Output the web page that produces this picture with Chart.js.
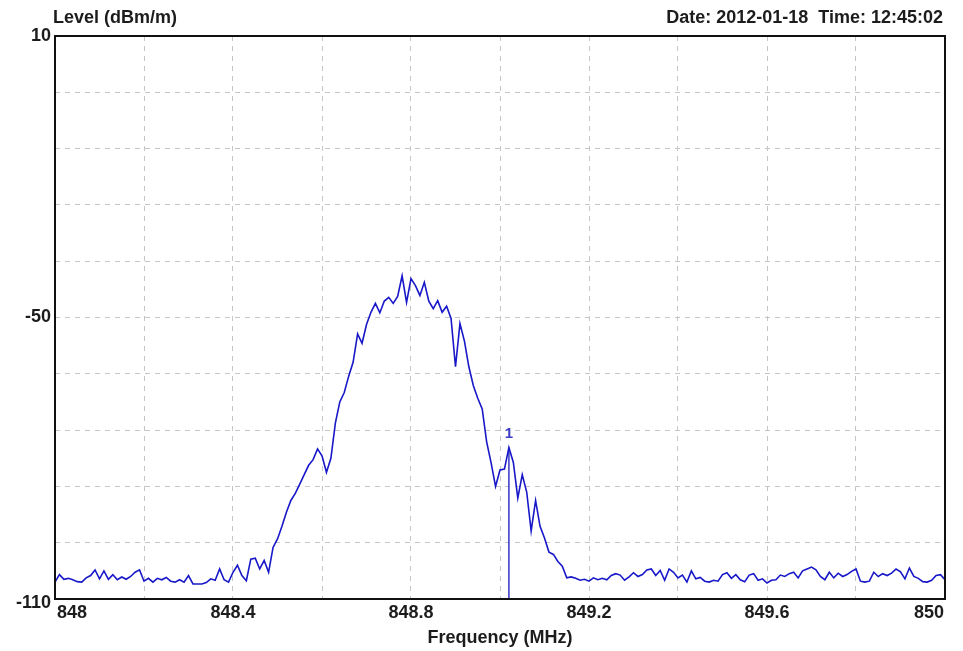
<!DOCTYPE html>
<html>
<head>
<meta charset="utf-8">
<script src="https://cdn.jsdelivr.net/npm/chart.js@4"></script>
<style>
  body { margin: 0; background: #fff; }
  #wrap { width: 963px; height: 651px; }
</style>
</head>
<body>
<div id="wrap"><canvas id="spectrum" width="963" height="651"></canvas></div>
<script>
// sweep: 848 .. 850 MHz, one reading every 10 kHz
const freqStart = 848;
const freqStep = 0.01;

// level readings (dBm/m)
const levels = [
    -106.4, -104.8, -105.8, -105.6, -105.9, -106.3, -106.4, -105.5, -105.0, -103.8,
    -105.7, -104.0, -105.8, -104.8, -105.9, -105.3, -105.8, -105.2, -104.3, -103.8,
    -106.2, -105.6, -106.4, -105.6, -105.9, -105.4, -106.2, -106.4, -105.9, -106.4,
    -105.0, -106.8, -106.8, -106.8, -106.5, -105.7, -106.0, -103.6, -105.9, -106.4,
    -104.3, -102.8, -105.0, -106.1, -101.5, -101.3, -103.6, -101.8, -104.3, -99.0,
    -97.2, -94.5, -91.5, -89.0, -87.5, -85.5, -83.5, -81.5, -80.3, -78.0,
    -79.5, -83.0, -80.0, -72.5, -68.0, -66.0, -62.5, -59.5, -53.5, -55.5,
    -51.5, -48.9, -47.0, -49.0, -46.5, -45.7, -47.0, -45.5, -41.1, -46.8,
    -41.7, -43.2, -45.3, -42.5, -46.5, -48.1, -46.4, -48.9, -47.6, -50.2,
    -60.5, -51.3, -55.0, -60.5, -64.5, -67.2, -69.5, -76.5, -81.0, -86.0,
    -82.5, -82.3, -77.7, -80.9, -88.5, -83.5, -87.2, -95.5, -89.0, -94.5,
    -97.0, -100.0, -100.5, -102.0, -103.0, -105.5, -105.3, -105.6, -106.0, -105.8,
    -106.2, -105.5, -105.9, -105.6, -105.9, -105.0, -104.6, -104.9, -106.0, -105.3,
    -104.4, -105.2, -104.8, -103.8, -103.6, -105.0, -103.9, -106.0, -103.6, -104.3,
    -105.5, -104.9, -106.4, -104.0, -105.7, -105.4, -106.2, -106.4, -106.0, -106.2,
    -104.8, -104.4, -105.6, -104.8, -105.9, -106.3, -104.9, -104.6, -106.0, -105.7,
    -106.6, -106.0, -105.9, -104.9, -105.2, -104.6, -104.3, -105.5, -104.0, -103.6,
    -103.2, -103.8, -105.2, -105.9, -104.3, -105.5, -104.5, -105.2, -104.8, -104.1,
    -103.6, -106.2, -106.4, -106.2, -104.3, -105.2, -104.6, -105.0, -104.5, -103.6,
    -104.2, -105.7, -103.4, -105.2, -105.6, -106.3, -106.4, -106.0, -105.0, -104.8,
    -105.9
];

// marker 1 sits on reading no. 102 (849.02 MHz)
const markerIndex = 102;
const markerLabel = "1";

const xLabelValues = [848, 848.4, 848.8, 849.2, 849.6, 850];
const yLabelValues = [10, -50, -110];

const titleY = "Level (dBm/m)";
const titleX = "Frequency (MHz)";
const stamp = "Date: 2012-01-18  Time: 12:45:02";

const trace = levels.map((v, i) => ({ x: freqStart + i * freqStep, y: v }));
const markerX = freqStart + markerIndex * freqStep;
const markerLine = [
    { x: markerX, y: levels[markerIndex] },
    { x: markerX, y: -110 }
];

const textColor = "#1c1c1c";
const boldFont = "bold 18px 'Liberation Sans', Arial, sans-serif";

const labelsPlugin = {
    id: "labels",
    afterDraw(chart) {
        const ctx = chart.ctx;
        const area = chart.chartArea;
        const xs = chart.scales.x;
        const ys = chart.scales.y;

        ctx.save();
        // frame
        ctx.strokeStyle = "#111";
        ctx.lineWidth = 2;
        ctx.strokeRect(area.left, area.top, area.right - area.left, area.bottom - area.top);

        ctx.fillStyle = textColor;
        ctx.font = boldFont;
        ctx.textBaseline = "middle";

        // y labels
        ctx.textAlign = "right";
        yLabelValues.forEach(v => {
            let y = ys.getPixelForValue(v);
            if (v === -110) y += 4;
            ctx.fillText(String(v), area.left - 4, y);
        });

        // x labels
        xLabelValues.forEach((v, i) => {
            const x = xs.getPixelForValue(v);
            if (i === 0) { ctx.textAlign = "left"; ctx.fillText(String(v), x + 2, 613); }
            else if (i === xLabelValues.length - 1) { ctx.textAlign = "right"; ctx.fillText(String(v), x - 1, 613); }
            else { ctx.textAlign = "center"; ctx.fillText(String(v), x, 613); }
        });

        // titles
        ctx.textAlign = "left";
        ctx.fillText(titleY, 53, 18);
        ctx.textAlign = "right";
        ctx.fillText(stamp, 943, 18);
        ctx.textAlign = "center";
        ctx.fillText(titleX, 500, 638);

        // marker number
        ctx.fillStyle = "#3c3cc8";
        ctx.font = "bold 15px 'Liberation Sans', Arial, sans-serif";
        ctx.fillText(markerLabel, xs.getPixelForValue(markerX), ys.getPixelForValue(levels[markerIndex]) - 14);
        ctx.restore();
    }
};

new Chart(document.getElementById("spectrum"), {
    type: "line",
    data: {
        datasets: [
            {
                data: trace,
                borderColor: "#1818c8",
                borderWidth: 1.6,
                pointRadius: 0,
                tension: 0
            },
            {
                data: markerLine,
                borderColor: "#4444cc",
                borderWidth: 1.6,
                pointRadius: 0
            }
        ]
    },
    options: {
        responsive: false,
        devicePixelRatio: 1,
        animation: false,
        layout: { padding: { left: 55, top: 36, right: 18, bottom: 52 } },
        plugins: {
            legend: { display: false },
            tooltip: { enabled: false }
        },
        scales: {
            x: {
                type: "linear",
                min: 848,
                max: 850,
                ticks: { display: false, stepSize: 0.2 },
                grid: { color: "#c6c6c6", lineWidth: 1, drawTicks: false },
                border: { display: false, dash: [5, 5] },
                afterFit(scale) { scale.height = 0; }
            },
            y: {
                min: -110,
                max: 10,
                ticks: { display: false, stepSize: 12 },
                grid: { color: "#c6c6c6", lineWidth: 1, drawTicks: false },
                border: { display: false, dash: [5, 5] },
                afterFit(scale) { scale.width = 0; }
            }
        }
    },
    plugins: [labelsPlugin]
});
</script>
</body>
</html>
